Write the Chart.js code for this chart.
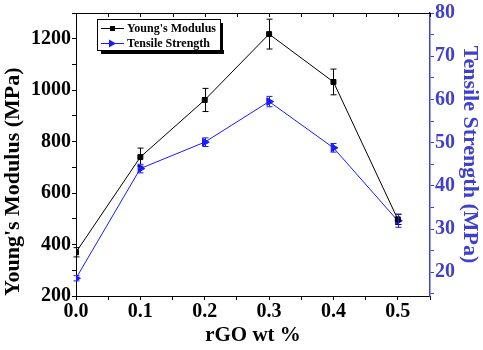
<!DOCTYPE html>
<html>
<head>
<meta charset="utf-8">
<script src="https://cdn.jsdelivr.net/npm/chart.js@4.4.1/dist/chart.umd.min.js"></script>
<style>
  html, body { margin: 0; padding: 0; background: #fff; }
  #wrap { width: 483px; height: 350px; }
</style>
</head>
<body>
<div id="wrap"><canvas id="myChart" width="483" height="350"></canvas></div>
<script>
// data
const rgo = [0.0, 0.1, 0.2, 0.3, 0.4, 0.5];
const modulus = [370, 740, 962, 1218, 1032, 498];
const modulusErr = [18, 35, 45, 58, 50, 20];
const tensile = [18.6, 44.0, 50.1, 59.5, 48.8, 31.9];
const tensileErr = [0.6, 1.0, 1.0, 1.2, 1.0, 1.5];
const xTicks = [0, 0.05, 0.1, 0.15, 0.2, 0.25, 0.3, 0.35, 0.4, 0.45, 0.5, 0.55];
const leftTicks = [200, 300, 400, 500, 600, 700, 800, 900, 1000, 1100, 1200, 1300];
const rightTicks = [15, 20, 25, 30, 35, 40, 45, 50, 55, 60, 65, 70, 75, 80];

const blueAxis = '#4040c8';
const blueLine = '#1a1aff';
const serif = '"Liberation Serif", "Times New Roman", serif';

const pts = (ys) => rgo.map((x, i) => ({ x: x, y: ys[i] }));

// error bars + frame top + legend box
const extras = {
  id: 'extras',
  afterDatasetsDraw(chart) {
    const c = chart.ctx;
    const xs = chart.scales.x, yl = chart.scales.y, yr = chart.scales.y2;
    const a = chart.chartArea;
    function bars(vals, errs, sc, col) {
      c.save();
      c.strokeStyle = col;
      c.lineWidth = 1;
      vals.forEach((v, i) => {
        const px = Math.round(xs.getPixelForValue(rgo[i])) + 0.5;
        const t = sc.getPixelForValue(v + errs[i]);
        const b = sc.getPixelForValue(v - errs[i]);
        c.beginPath();
        c.moveTo(px, t); c.lineTo(px, b);
        c.moveTo(px - 3, t); c.lineTo(px + 3, t);
        c.moveTo(px - 3, b); c.lineTo(px + 3, b);
        c.stroke();
      });
      c.restore();
    }
    bars(modulus, modulusErr, yl, '#000');
    bars(tensile, tensileErr, yr, blueLine);

    // top frame line with inward ticks
    c.save();
    c.strokeStyle = '#000';
    c.lineWidth = 1;
    c.beginPath();
    c.moveTo(a.left, a.top + 0.5); c.lineTo(a.right, a.top + 0.5);
    xTicks.forEach(v => {
      const px = Math.round(xs.getPixelForValue(v)) + 0.5;
      c.moveTo(px, a.top); c.lineTo(px, a.top + 4);
    });
    c.stroke();

    // legend
    const lx = 97, ly = 19, lw = 123, lh = 31;
    c.fillStyle = '#000';
    c.fillRect(lx + 4, ly + lh, lw, 4);
    c.fillRect(lx + lw, ly + 4, 3, lh);
    c.fillStyle = '#fff';
    c.fillRect(lx, ly, lw, lh);
    c.strokeStyle = '#000';
    c.strokeRect(lx + 0.5, ly + 0.5, lw, lh);
    const rows = [
      { label: "Young's Modulus", col: '#000', y: ly + 9, m: 'sq' },
      { label: 'Tensile Strength', col: blueLine, y: ly + 24, m: 'tri' }
    ];
    rows.forEach(r => {
      c.strokeStyle = r.col;
      c.fillStyle = r.col;
      c.beginPath();
      c.moveTo(lx + 4, r.y + 0.5); c.lineTo(lx + 27, r.y + 0.5);
      c.stroke();
      if (r.m === 'sq') {
        c.fillRect(lx + 13, r.y - 2, 5, 5);
      } else {
        c.beginPath();
        c.moveTo(lx + 12, r.y - 3.5); c.lineTo(lx + 19, r.y + 0.5); c.lineTo(lx + 12, r.y + 4.5);
        c.closePath(); c.fill();
      }
      c.fillStyle = '#000';
      c.font = 'bold 12px ' + serif;
      c.textBaseline = 'middle';
      c.textAlign = 'left';
      c.fillText(r.label, lx + 30, r.y + 1);
    });
    c.restore();
  }
};

var ctx = document.getElementById('myChart').getContext('2d');
var myChart = new Chart(ctx, {
  type: 'line',
  data: {
    datasets: [{
      label: "Young's Modulus",
      data: pts(modulus),
      yAxisID: 'y',
      borderColor: '#000',
      backgroundColor: '#000',
      borderWidth: 1,
      pointStyle: 'rect',
      pointRadius: 3.5,
      tension: 0
    }, {
      label: 'Tensile Strength',
      data: pts(tensile),
      yAxisID: 'y2',
      borderColor: blueLine,
      backgroundColor: blueLine,
      borderWidth: 1,
      pointStyle: 'triangle',
      rotation: 90,
      pointRadius: 4.5,
      tension: 0
    }]
  },
  options: {
    responsive: false,
    animation: false,
    layout: { padding: { top: 9, left: 0, right: 0, bottom: 0 } },
    plugins: { legend: { display: false }, tooltip: { enabled: false } },
    scales: {
      x: {
        type: 'linear',
        min: 0, max: 0.55,
        afterBuildTicks: s => { s.ticks = xTicks.map(v => ({ value: v })); },
        afterFit: s => { s.height = 54; },
        grid: { drawOnChartArea: false, color: '#000', tickLength: 4 },
        border: { color: '#000', width: 1 },
        ticks: {
          color: '#000',
          padding: 0,
          maxRotation: 0,
          autoSkip: false,
          font: { family: serif, size: 20, weight: 'bold' },
          callback: v => (Math.round(v * 100) % 10 === 0 && v < 0.52) ? v.toFixed(1) : ''
        },
        title: {
          display: true, text: 'rGO wt %', color: '#000', padding: { top: 0, bottom: 2 },
          font: { family: serif, size: 21, weight: 'bold' }
        }
      },
      y: {
        position: 'left',
        min: 200, max: 1300,
        afterBuildTicks: s => { s.ticks = leftTicks.map(v => ({ value: v })); },
        afterFit: s => { s.width = 76; },
        grid: { drawOnChartArea: false, color: '#000', tickLength: 4 },
        border: { color: '#000', width: 1 },
        ticks: {
          color: '#000',
          padding: 1,
          autoSkip: false,
          font: { family: serif, size: 20, weight: 'bold' },
          callback: v => (v % 200 === 0 && v <= 1200) ? String(v) : ''
        },
        title: {
          display: true, text: "Young's Modulus (MPa)", color: '#000', align: 'start',
          padding: { top: 0, bottom: 2 },
          font: { family: serif, size: 22, weight: 'bold' }
        }
      },
      y2: {
        position: 'right',
        min: 14.5, max: 80,
        afterBuildTicks: s => { s.ticks = rightTicks.map(v => ({ value: v })); },
        afterFit: s => { s.width = 53; },
        grid: { drawOnChartArea: false, color: blueAxis, tickLength: 4 },
        border: { color: blueAxis, width: 1.5 },
        ticks: {
          color: blueAxis,
          padding: 1,
          autoSkip: false,
          font: { family: serif, size: 20, weight: 'bold' },
          callback: v => (v % 10 === 0) ? String(v) : ''
        },
        title: {
          display: true, text: 'Tensile Strength (MPa)', color: blueAxis, padding: 0,
          font: { family: serif, size: 22, weight: 'bold' }
        }
      }
    }
  },
  plugins: [extras]
});
</script>
</body>
</html>
